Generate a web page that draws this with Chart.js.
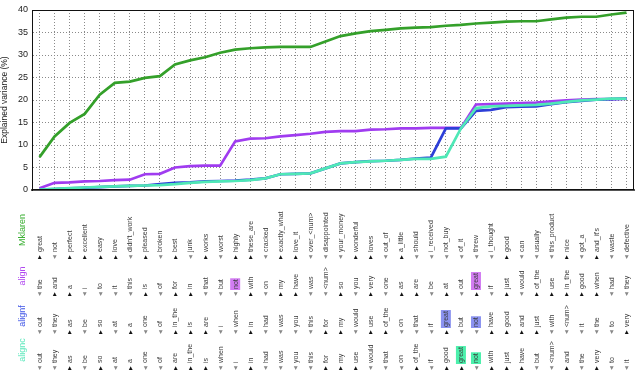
<!DOCTYPE html>
<html>
<head>
<meta charset="utf-8">
<script src="https://cdn.jsdelivr.net/npm/chart.js@4.4.1/dist/chart.umd.min.js"></script>
<style>
  html, body { margin: 0; padding: 0; background: #fff; }
  #wrap { width: 642px; height: 379px; }
</style>
</head>
<body>
<div id="wrap"><canvas id="chart"></canvas></div>
<script>
// words picked at each step, per method
const mklarenWords = ["great", "not", "perfect", "excellent", "easy", "love", "didn't_work", "pleased", "broken", "best",
  "junk", "works", "worst", "highly", "these_are", "cracked", "exactly_what", "love_it", "over_<num>", "disappointed",
  "your_money", "wonderful", "loves", "out_of", "a_little", "should", "i_received", "not_buy", "of_it", "threw",
  "i_thought", "good", "can", "usually", "this_product", "nice", "got_a", "and_it's", "waste", "defective"];
const alignWords = ["the", "and", "a", "i", "to", "it", "this", "is", "of", "for",
  "in", "that", "but", "not", "with", "on", "my", "have", "was", "<num>",
  "so", "you", "very", "one", "as", "are", "be", "at", "out", "great",
  "if", "just", "would", "of_the", "use", "in_the", "good", "when", "had", "they"];
const alignfWords = ["out", "they", "as", "be", "so", "at", "a", "one", "of", "in_the",
  "is", "are", "i", "when", "in", "had", "was", "you", "this", "for",
  "my", "would", "use", "of_the", "on", "that", "if", "great", "but", "not",
  "have", "good", "and", "just", "with", "<num>", "it", "the", "to", "very"];
const aligncWords = ["out", "they", "as", "be", "so", "at", "a", "one", "of", "are",
  "in_the", "is", "when", "i", "in", "had", "was", "you", "this", "for",
  "my", "use", "would", "that", "on", "of_the", "if", "good", "great", "not",
  "with", "just", "have", "but", "<num>", "and", "the", "very", "to", "it"];

// 1 = positive word, -1 = negative word
const mklarenSigns = [1, -1, 1, 1, 1, 1, -1, 1, -1, 1, -1, 1, -1, 1, 1, -1, 1, 1, -1, -1,
  -1, 1, 1, -1, 1, -1, -1, -1, -1, -1, -1, 1, -1, -1, -1, 1, -1, 1, -1, -1];
const alignSigns = [-1, 1, 1, -1, -1, -1, -1, 1, -1, 1, 1, -1, -1, -1, 1, -1, 1, 1, -1, -1,
  1, -1, 1, -1, 1, 1, -1, 1, -1, 1, -1, 1, -1, 1, 1, 1, 1, 1, -1, -1];
const alignfSigns = [-1, -1, 1, -1, 1, -1, 1, -1, -1, 1, 1, 1, -1, -1, 1, -1, -1, -1, -1, 1,
  1, -1, 1, 1, -1, -1, -1, 1, -1, -1, 1, 1, 1, 1, -1, -1, -1, -1, -1, 1];
const aligncSigns = [-1, -1, 1, -1, 1, -1, 1, -1, -1, 1, 1, 1, -1, -1, 1, -1, -1, -1, -1, 1,
  1, 1, -1, -1, -1, 1, -1, 1, 1, -1, 1, 1, 1, -1, -1, 1, -1, 1, -1, -1];

// highlighted cells (index of step)
const alignHighlight = [13, 29];
const alignfHighlight = [27, 29];
const aligncHighlight = [28, 29];

// explained variance (%)
const mklarenValues = [7.3, 11.9, 14.9, 16.9, 21.2, 23.8, 24.1, 24.9, 25.3, 27.9,
  28.8, 29.5, 30.5, 31.2, 31.5, 31.7, 31.8, 31.8, 31.8, 33.0,
  34.2, 34.8, 35.3, 35.6, 35.9, 36.1, 36.2, 36.5, 36.7, 37.0,
  37.2, 37.4, 37.5, 37.5, 37.9, 38.3, 38.5, 38.5, 39.0, 39.4];
const alignValues = [0.4, 1.6, 1.7, 1.9, 2.0, 2.2, 2.3, 3.5, 3.6, 5.0,
  5.3, 5.4, 5.4, 10.8, 11.4, 11.5, 11.9, 12.2, 12.5, 12.9,
  13.1, 13.1, 13.4, 13.5, 13.7, 13.7, 13.8, 13.8, 13.8, 19.0,
  19.1, 19.2, 19.3, 19.4, 19.7, 19.9, 20.1, 20.2, 20.2, 20.3];
const alignfValues = [0.1, 0.2, 0.35, 0.5, 0.65, 0.8, 0.9, 1.0, 1.3, 1.6,
  1.7, 1.9, 2.0, 2.1, 2.3, 2.6, 3.5, 3.6, 3.7, 4.8,
  5.9, 6.2, 6.4, 6.5, 6.7, 7.0, 7.2, 13.7, 13.7, 17.6,
  17.8, 18.4, 18.5, 18.6, 19.1, 19.5, 19.8, 20.1, 20.2, 20.3];
const aligncValues = [0.1, 0.25, 0.4, 0.55, 0.7, 0.8, 0.9, 1.0, 1.1, 1.3,
  1.6, 1.8, 1.9, 2.0, 2.2, 2.6, 3.5, 3.6, 3.7, 4.8,
  5.9, 6.2, 6.35, 6.5, 6.7, 6.9, 6.9, 7.4, 13.7, 18.2,
  18.6, 18.7, 18.8, 18.9, 19.2, 19.6, 19.9, 20.1, 20.3, 20.3];

const yTicks = [0, 5, 10, 15, 20, 25, 30, 35, 40];

const green = "#34a02a";
const purple = "#a03cf0";
const blue = "#2d3fd8";
const aqua = "#4fe8b6";

const rows = [
  { name: "Mklaren", color: "#3cb034", words: mklarenWords, signs: mklarenSigns, hi: [], hiColor: null },
  { name: "align", color: "#b048f0", words: alignWords, signs: alignSigns, hi: alignHighlight, hiColor: "#d27cf2" },
  { name: "alignf", color: "#3f55e6", words: alignfWords, signs: alignfSigns, hi: alignfHighlight, hiColor: "#8a92f0" },
  { name: "alignc", color: "#5ce8bc", words: aligncWords, signs: aligncSigns, hi: aligncHighlight, hiColor: "#4cf0ac" }
];
const rowStartY = [257, 294, 332, 368];
const rowLabelY = [230, 276, 316, 350];

const wordRows = {
  id: "wordRows",
  afterDraw(chart) {
    const { ctx, chartArea } = chart;
    const x = chart.scales.x;
    ctx.save();
    ctx.strokeStyle = "#111";
    ctx.lineWidth = 1;
    ctx.strokeRect(chartArea.left + 0.5, chartArea.top + 0.5, chartArea.width - 1, chartArea.height - 1);

    rows.forEach((row, r) => {
      ctx.save();
      ctx.translate(23, rowLabelY[r]);
      ctx.rotate(-Math.PI / 2);
      ctx.font = '9px "Liberation Sans"';
      ctx.fillStyle = row.color;
      ctx.textAlign = "center";
      ctx.textBaseline = "middle";
      ctx.fillText(row.name, 0, 0);
      ctx.restore();

      row.words.forEach((w, i) => {
        const px = x.getPixelForValue(i);
        ctx.save();
        ctx.translate(px, rowStartY[r]);
        ctx.rotate(-Math.PI / 2);
        ctx.textAlign = "left";
        ctx.textBaseline = "middle";
        ctx.font = '5px "DejaVu Sans"';
        ctx.fillStyle = row.signs[i] > 0 ? "#111" : "#888";
        ctx.fillText(row.signs[i] > 0 ? "\u25B6" : "\u25C0", -2, 0.5);
        ctx.font = '7px "Liberation Sans"';
        const tw = ctx.measureText(w).width;
        if (row.hi.includes(i)) {
          ctx.fillStyle = row.hiColor;
          ctx.fillRect(4, -5, tw + 2, 10);
        }
        ctx.fillStyle = "#3a3a3a";
        ctx.fillText(w, 5, 0.5);
        ctx.restore();
      });
    });
    ctx.restore();
  }
};

const dotted = { color: "#8a8a8a", lineWidth: 1, drawTicks: false, tickLength: 0 };

new Chart(document.getElementById("chart"), {
  type: "line",
  data: {
    labels: mklarenWords,
    datasets: [
      { label: "Mklaren", data: mklarenValues, borderColor: green, order: 0 },
      { label: "alignc", data: aligncValues, borderColor: aqua, order: 1 },
      { label: "alignf", data: alignfValues, borderColor: blue, order: 2 },
      { label: "align", data: alignValues, borderColor: purple, order: 3 }
    ]
  },
  options: {
    responsive: true,
    maintainAspectRatio: false,
    animation: false,
    layout: { padding: { top: 10, right: 8, bottom: 189, left: 0 } },
    elements: {
      line: { borderWidth: 2.7, tension: 0, fill: false },
      point: { radius: 0 }
    },
    plugins: { legend: { display: false }, tooltip: { enabled: false } },
    scales: {
      x: {
        type: "category",
        offset: true,
        grid: { ...dotted, offset: false },
        border: { display: true, color: "#555", width: 2, dash: [1, 2] },
        ticks: { display: false },
        afterFit(scale) { scale.height = 0; }
      },
      y: {
        min: 0,
        max: 40,
        afterBuildTicks(scale) { scale.ticks = yTicks.map(v => ({ value: v })); },
        grid: dotted,
        border: { display: true, color: "#111", dash: [1, 2] },
        ticks: { font: { family: "Liberation Sans", size: 9 }, color: "#222", padding: 4 },
        title: { display: true, text: "Explained variance (%)", font: { family: "Liberation Sans", size: 8.5 }, color: "#222", padding: 0 },
        afterFit(scale) { scale.width = 32; }
      }
    }
  },
  plugins: [wordRows]
});
</script>
</body>
</html>
